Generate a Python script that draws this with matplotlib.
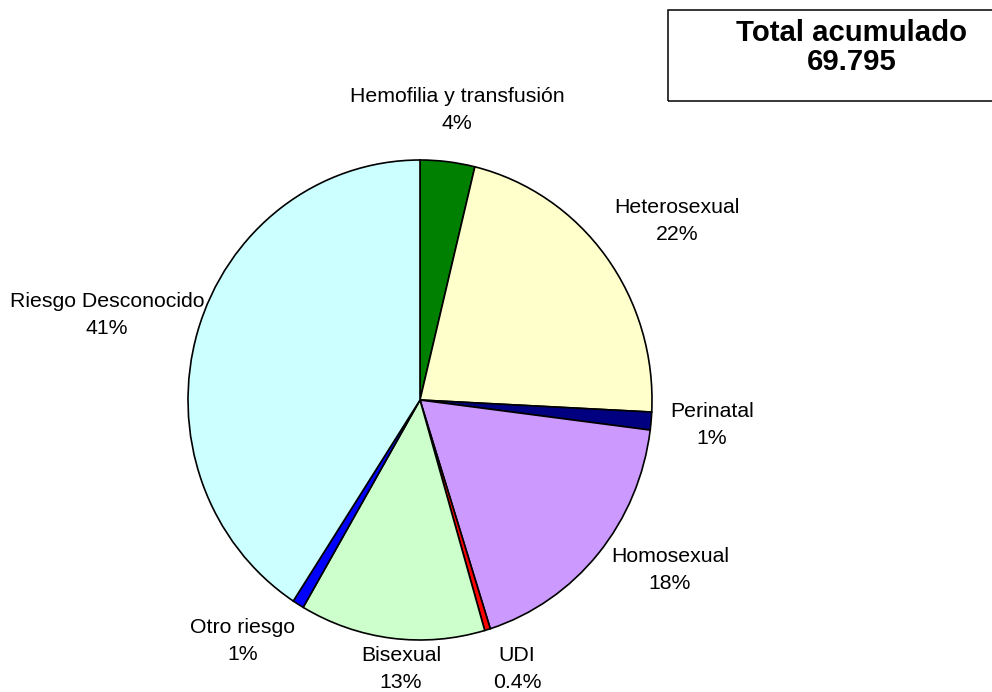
import matplotlib.pyplot as plt
from matplotlib.patches import Rectangle

plt.rcParams['font.family'] = ['Liberation Sans', 'DejaVu Sans']

# categorias y valores (en %), desde las 12 en sentido horario
categorias = ["Hemofilia y transfusión", "Heterosexual", "Perinatal", "Homosexual",
              "UDI", "Bisexual", "Otro riesgo", "Riesgo Desconocido"]
porcentajes = [3.8, 22.0, 1.2, 18.1, 0.4, 12.9, 0.8, 40.8]
etiquetas_pct = ["4%", "22%", "1%", "18%", "0.4%", "13%", "1%", "41%"]
colores = ["#008000", "#FFFFCC", "#000080", "#CC99FF",
           "#FF0000", "#CCFFCC", "#0000FF", "#CCFFFF"]
total_titulo = "Total acumulado"
total_valor = "69.795"

W, H = 992, 692
fig = plt.figure(figsize=(W / 100, H / 100), dpi=100)

# pie: centro (420, 400) px, radio ~232 x 240 px
cx, cy, rx, ry = 420, 400, 232, 240
ax = fig.add_axes([(cx - rx) / W, (H - cy - ry) / H, 2 * rx / W, 2 * ry / H])
ax.pie(porcentajes, colors=colores, startangle=90, counterclock=False,
       wedgeprops=dict(edgecolor="black", linewidth=1.2))
ax.set_aspect('auto')
ax.set_xlim(-1, 1)
ax.set_ylim(-1, 1)
ax.axis('off')

# posiciones de las etiquetas (px, centro del bloque de texto)
pos_etiquetas = [(457, 110), (677, 221), (712, 425), (670, 570),
                 (517, 669), (401, 669), (243, 641), (107, 315)]
for cat, pct, (px, py) in zip(categorias, etiquetas_pct, pos_etiquetas):
    fig.text(px / W, 1 - py / H, cat + "\n" + pct, ha="center", va="center",
             fontsize=15.3, linespacing=1.55)

# recuadro del total
fig.patches.append(Rectangle((668 / W, 1 - 101 / H), 340 / W, 91 / H,
                             transform=fig.transFigure, fill=False,
                             edgecolor="black", linewidth=1.1))
fig.text(852 / W, 1 - 33 / H, total_titulo, ha="center", va="center",
         fontsize=21.2, fontweight="bold")
fig.text(852 / W, 1 - 62 / H, total_valor, ha="center", va="center",
         fontsize=21.2, fontweight="bold")

fig.savefig("out.png", dpi=100)
